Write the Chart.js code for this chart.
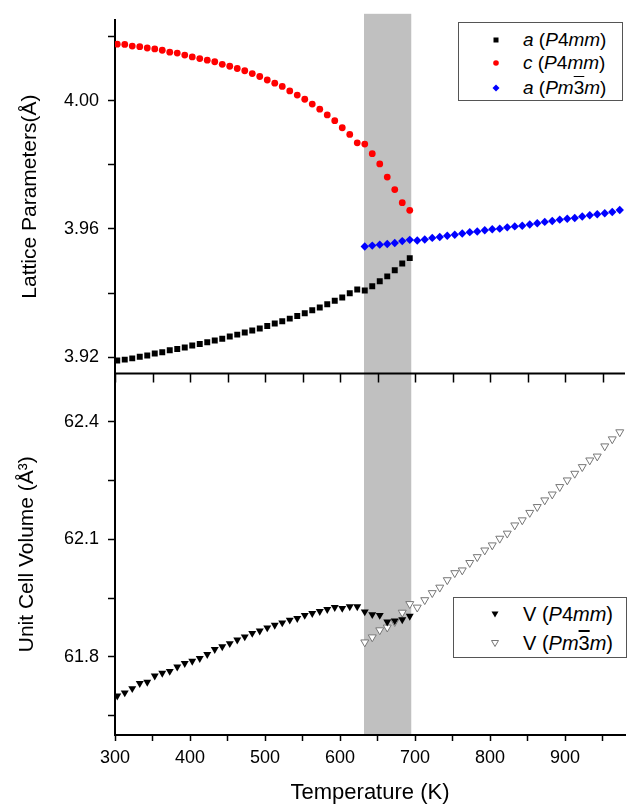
<!DOCTYPE html>
<html>
<head>
<meta charset="utf-8">
<script src="https://cdn.jsdelivr.net/npm/chart.js@4.4.1/dist/chart.umd.min.js"></script>
<style>
  html, body { margin: 0; padding: 0; background: #fff; }
  #wrap { position: relative; width: 631px; height: 808px; font-family: "Liberation Sans", Arial, sans-serif; }
  #c { position: absolute; left: 0; top: 0; }
  .leg { position: absolute; border: 1px solid #555; background: #fff; box-sizing: border-box; }
  .row { position: absolute; left: 0; height: 24px; width: 100%; white-space: nowrap; color: #000; }
  .row svg { position: absolute; top: 0; }
  .row span.t { position: absolute; top: 0; line-height: 24px; }
  .ob { text-decoration: overline; }
</style>
</head>
<body>
<div id="wrap">
  <canvas id="c" width="631" height="808"></canvas>
  <div class="leg" id="leg1" style="left:458px; top:22px; width:165px; height:79px; font-size:19px;">
    <div class="row" style="top:5px;">
      <svg width="12" height="24" style="left:31px"><rect x="3.5" y="9.5" width="5" height="5" fill="#000"/></svg>
      <span class="t" style="left:64px"><i>a</i> (<i>P</i>4<i>mm</i>)</span>
    </div>
    <div class="row" style="top:28px;">
      <svg width="12" height="24" style="left:31px"><circle cx="6" cy="12" r="2.8" fill="#ff0000"/></svg>
      <span class="t" style="left:64px"><i>c</i> (<i>P</i>4<i>mm</i>)</span>
    </div>
    <div class="row" style="top:53px;">
      <svg width="12" height="24" style="left:31px"><polygon points="6,8.5 9.5,12 6,15.5 2.5,12" fill="#0000ff"/></svg>
      <span class="t" style="left:64px"><i>a</i> (<i>Pm</i><span class="ob">3</span><i>m</i>)</span>
    </div>
  </div>
  <div class="leg" id="leg2" style="left:453px; top:597px; width:174px; height:61px; font-size:20px;">
    <div class="row" style="top:4px;">
      <svg width="12" height="24" style="left:35px"><polygon points="2.5,9.5 9.5,9.5 6,15.5" fill="#000"/></svg>
      <span class="t" style="left:69px">V (<i>P</i>4<i>mm</i>)</span>
    </div>
    <div class="row" style="top:33px;">
      <svg width="12" height="24" style="left:35px"><polygon points="2.5,9.5 9.5,9.5 6,15.5" fill="#fff" stroke="#777" stroke-width="1"/></svg>
      <span class="t" style="left:69px">V (<i>Pm</i><span class="ob">3</span><i>m</i>)</span>
    </div>
  </div>
</div>
<script>
// ---------------- data ----------------
const tempsTet = [303,313,323,333,343,353,363,373,383,393,403,413,423,433,443,453,463,473,483,493,
                  503,513,523,533,543,553,563,573,583,593,603,613,623,633,643,653,663,673,683,693];
const tempsCub = [633,643,653,663,673,683,693,703,713,723,733,743,753,763,773,783,793,803,813,823,
                  833,843,853,863,873,883,893,903,913,923,933,943,953,963,973];

const aTet = [3.9189,3.9192,3.9196,3.9201,3.9205,3.9211,3.9215,3.9221,3.9225,3.9230,
              3.9236,3.9241,3.9246,3.9252,3.9257,3.9264,3.9270,3.9277,3.9283,3.9289,
              3.9297,3.9305,3.9312,3.9320,3.9328,3.9337,3.9346,3.9355,3.9365,3.9376,
              3.9386,3.9399,3.9411,3.9408,3.9421,3.9437,3.9452,3.9471,3.9492,3.9509];
const cTet = [4.0177,4.0176,4.0171,4.0169,4.0165,4.0162,4.0158,4.0152,4.0149,4.0143,
              4.0137,4.0132,4.0127,4.0122,4.0114,4.0108,4.0101,4.0094,4.0085,4.0076,
              4.0065,4.0055,4.0045,4.0031,4.0018,4.0005,3.9990,3.9974,3.9956,3.9938,
              3.9916,3.9895,3.9869,3.9865,3.9835,3.9803,3.9762,3.9723,3.9682,3.9658];
const aCub = [3.9545,3.9548,3.9551,3.9553,3.9556,3.9562,3.9566,3.9564,3.9567,3.9572,
              3.9575,3.9579,3.9582,3.9586,3.9590,3.9592,3.9596,3.9599,3.9601,3.9605,
              3.9608,3.9610,3.9614,3.9618,3.9622,3.9625,3.9629,3.9632,3.9634,3.9639,
              3.9643,3.9646,3.9649,3.9653,3.9659];
const vTet = [61.700,61.708,61.719,61.732,61.735,61.751,61.758,61.763,61.774,61.783,
              61.789,61.796,61.806,61.819,61.826,61.834,61.843,61.851,61.860,61.866,
              61.874,61.881,61.887,61.894,61.898,61.906,61.911,61.916,61.921,61.926,
              61.924,61.928,61.928,61.915,61.908,61.906,61.889,61.892,61.895,61.904];
const vCub = [61.837,61.850,61.868,61.875,61.889,61.913,61.935,61.926,61.945,61.963,
              61.977,61.996,62.014,62.021,62.040,62.055,62.072,62.085,62.102,62.115,
              62.136,62.149,62.168,62.183,62.200,62.215,62.234,62.251,62.268,62.285,
              62.302,62.312,62.338,62.356,62.374];

const xTicks = [300,350,400,450,500,550,600,650,700,750,800,850,900,950];
const xLabels = ['300','','400','','500','','600','','700','','800','','900',''];
const yTopTicks = [3.92,3.94,3.96,3.98,4.00,4.02];
const yTopLabels = ['3.92','','3.96','','4.00',''];
const yBotTicks = [61.65,61.80,61.95,62.10,62.25,62.40];
const yBotLabels = ['','61.8','','62.1','','62.4'];
const bandRange = [632, 695];   // two-phase region (K)

// ---------------- chart ----------------
const FONT = '"Liberation Sans", Arial, sans-serif';
Chart.defaults.font.family = FONT;
Chart.defaults.color = '#000';

const pts = (xs, ys) => xs.map((x, i) => ({x: x, y: ys[i]}));

const bandPlugin = {
  id: 'band',
  beforeDraw(chart) {
    const {ctx, chartArea, scales} = chart;
    const x1 = scales.x.getPixelForValue(bandRange[0]);
    const x2 = scales.x.getPixelForValue(bandRange[1]);
    ctx.save();
    ctx.fillStyle = '#c0c0c0';
    ctx.fillRect(x1, chartArea.top - 6, x2 - x1, chartArea.bottom - chartArea.top + 6);
    ctx.restore();
  }
};

const dividerPlugin = {
  id: 'divider',
  beforeDatasetsDraw(chart) {
    const {ctx, chartArea, scales} = chart;
    const y = scales.yTop.bottom;
    ctx.save();
    ctx.strokeStyle = '#000';
    ctx.lineWidth = 2;
    ctx.beginPath();
    ctx.moveTo(chartArea.left - 1, y);
    ctx.lineTo(chartArea.right, y);
    ctx.stroke();
    ctx.lineWidth = 1.5;
    ctx.beginPath();
    xTicks.forEach(v => {
      const px = Math.round(scales.x.getPixelForValue(v)) + 0.5;
      ctx.moveTo(px, y);
      ctx.lineTo(px, y + 9);
    });
    ctx.stroke();
    ctx.restore();
  }
};

const axisGrid = { drawOnChartArea: false, drawTicks: true, tickLength: 7, tickWidth: 1.5, tickColor: '#000' };
const axisBorder = { display: true, color: '#000', width: 2 };

new Chart(document.getElementById('c'), {
  type: 'scatter',
  data: {
    datasets: [
      { label: 'a (P4mm)', data: pts(tempsTet, aTet), yAxisID: 'yTop', pointStyle: 'rect',
        pointRadius: 4.2, backgroundColor: '#000', borderWidth: 0 },
      { label: 'c (P4mm)', data: pts(tempsTet, cTet), yAxisID: 'yTop', pointStyle: 'circle',
        pointRadius: 3.4, backgroundColor: '#ff0000', borderWidth: 0 },
      { label: 'a (Pm-3m)', data: pts(tempsCub, aCub), yAxisID: 'yTop', pointStyle: 'rectRot',
        pointRadius: 4.2, backgroundColor: '#0000ff', borderWidth: 0 },
      { label: 'V (P4mm)', data: pts(tempsTet, vTet), yAxisID: 'yBot', pointStyle: 'triangle',
        pointRotation: 180, pointRadius: 4.6, backgroundColor: '#000', borderWidth: 0 },
      { label: 'V (Pm-3m)', data: pts(tempsCub, vCub), yAxisID: 'yBot', pointStyle: 'triangle',
        pointRotation: 180, pointRadius: 4.6, backgroundColor: '#fff', borderColor: '#777', borderWidth: 1 }
    ]
  },
  options: {
    responsive: false,
    animation: false,
    events: [],
    layout: { padding: { left: 0, top: 19, right: 6, bottom: 0 } },
    plugins: { legend: { display: false }, tooltip: { enabled: false } },
    scales: {
      x: {
        type: 'linear', position: 'bottom', min: 300, max: 980,
        afterBuildTicks: s => { s.ticks = xTicks.map(v => ({value: v})); },
        afterFit: s => { s.height = 73; },
        grid: Object.assign({}, axisGrid, { tickLength: 6 }),
        border: axisBorder,
        ticks: { autoSkip: false, maxRotation: 0, padding: 6, font: { size: 18 },
                 callback: (v, i) => xLabels[i] },
        title: { display: true, text: 'Temperature (K)', font: { size: 22 }, padding: { top: 0, bottom: 2 } }
      },
      yBot: {
        type: 'linear', position: 'left', stack: 'panels', stackWeight: 362,
        min: 61.600, max: 62.524,
        afterBuildTicks: s => { s.ticks = yBotTicks.map(v => ({value: v})); },
        afterFit: s => { s.width = 115; },
        grid: axisGrid, border: axisBorder,
        ticks: { autoSkip: false, padding: 9, font: { size: 18 }, callback: (v, i) => yBotLabels[i] },
        title: { display: true, text: 'Unit Cell Volume (Å³)', font: { size: 21 }, padding: { top: 15, bottom: 0 } }
      },
      yTop: {
        type: 'linear', position: 'left', stack: 'panels', stackWeight: 354,
        min: 3.9149, max: 4.0253,
        afterBuildTicks: s => { s.ticks = yTopTicks.map(v => ({value: v})); },
        afterFit: s => { s.width = 115; },
        grid: axisGrid, border: axisBorder,
        ticks: { autoSkip: false, padding: 9, font: { size: 18 }, callback: (v, i) => yTopLabels[i] },
        title: { display: true, text: 'Lattice Parameters(Å)', font: { size: 21 }, padding: { top: 18, bottom: 0 } }
      }
    }
  },
  plugins: [bandPlugin, dividerPlugin]
});
</script>
</body>
</html>
